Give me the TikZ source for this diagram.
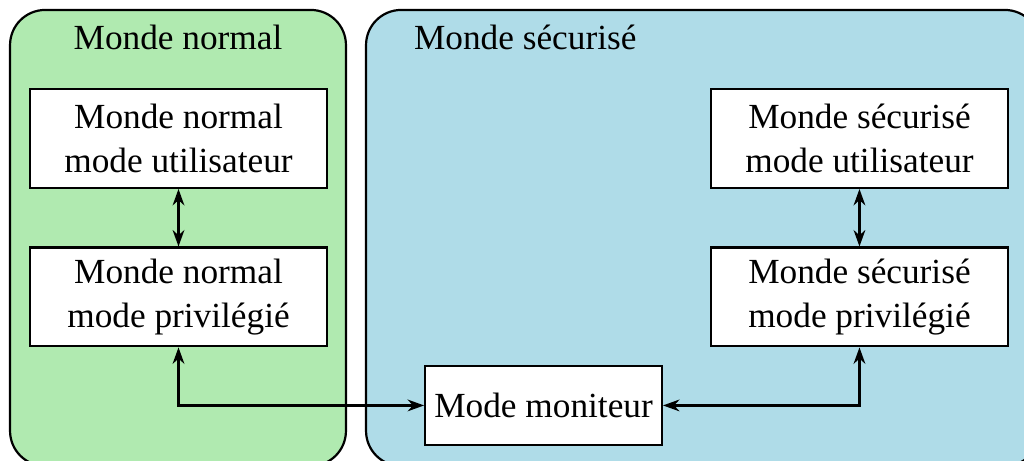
\documentclass[tikz,border=0pt]{standalone}
\usepackage{fontspec}
\setmainfont{Liberation Serif}
\usepackage{tikz}
\usetikzlibrary{arrows,arrows.meta,shapes,backgrounds,positioning,calc}
\definecolor{normalgreen}{HTML}{B0EAB0}
\definecolor{securblue}{HTML}{AFDCE8}
\tikzstyle{world}=[draw=black, line width=0.75pt, rounded corners=0.42cm]
\tikzstyle{mode}=[rectangle, draw=black, fill=white, line width=0.75pt, align=center, minimum width=3.55cm, minimum height=1.18cm, inner sep=1pt]
\tikzstyle{lab}=[inner sep=0pt]

\begin{document}
\begin{tikzpicture}[font=\fontsize{12}{15}\selectfont, >={Stealth[length=5.6pt,width=4pt,inset=1.8pt]}, line width=0.75pt]
        \useasboundingbox (0,0) rectangle (12.242,5.511);
        % the two worlds
        \fill[normalgreen, world] (0.120,-0.060) rectangle (4.136,5.392);
        \fill[securblue, world] (4.376,-0.060) rectangle (12.433,5.392);
        \node at (2.128,4.914) [lab, anchor=base] (tn) {Monde normal};
        \node at (4.937,4.914) [lab, anchor=base west] (ts) {Monde sécurisé};
        %
        \node at (2.134,3.855) [mode] (nu) {Monde normal\\mode utilisateur};
        \node at (2.134,1.961) [mode] (np) {Monde normal\\mode privilégié};
        \node at (10.275,3.855) [mode] (su) {Monde sécurisé\\mode utilisateur};
        \node at (10.275,1.961) [mode] (sp) {Monde sécurisé\\mode privilégié};
        \node at (6.498,0.664) [mode, minimum width=2.83cm, minimum height=0.94cm] (mm) {Mode moniteur};
        %
        \draw[<->] (nu) -- (np);
        \draw[<->] (su) -- (sp);
        \draw[<->] (np) |- (mm);
        \draw[<->] (sp) |- (mm);
    \end{tikzpicture}
\end{document}
